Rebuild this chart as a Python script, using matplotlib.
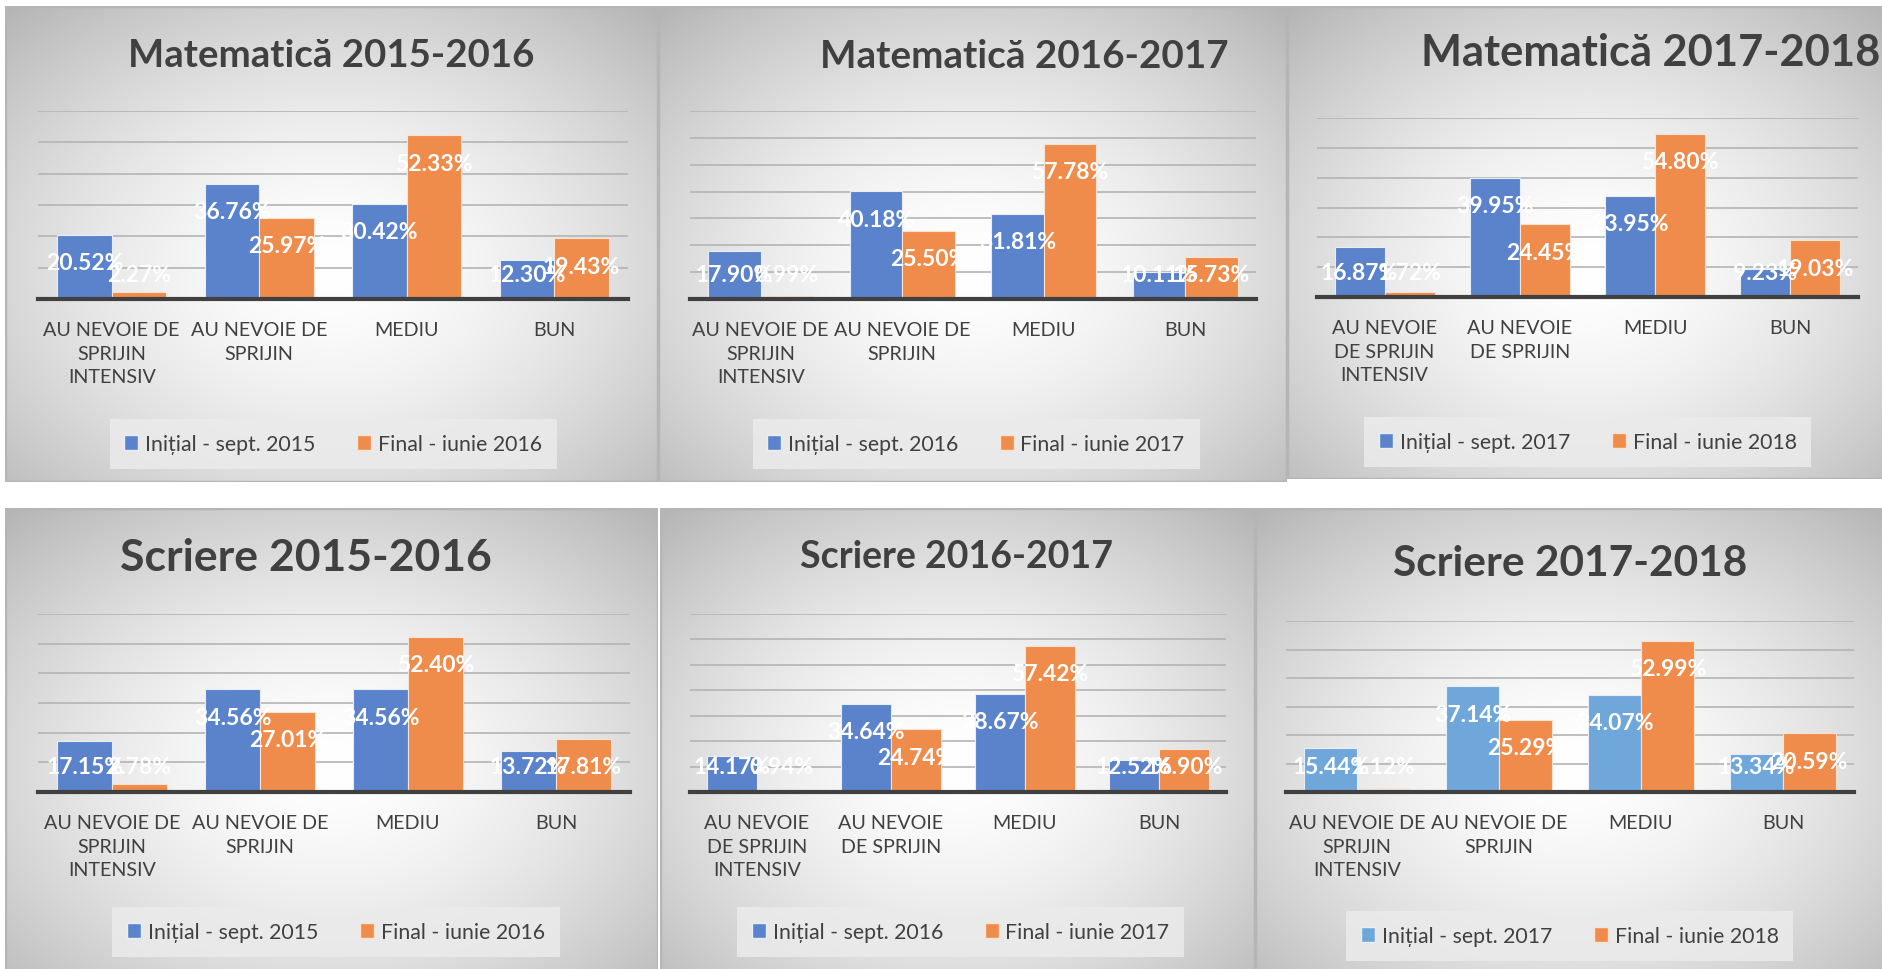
import matplotlib

matplotlib.use("Agg")
import matplotlib.pyplot as plt
import numpy as np
from matplotlib.patches import Patch, Rectangle

plt.rcParams["font.family"] = ["Lato", "DejaVu Sans"]

# values (percentages)
mat_1516_initial = [20.52, 36.76, 30.42, 12.30]
mat_1516_final = [2.27, 25.97, 52.33, 19.43]
mat_1617_initial = [17.90, 40.18, 31.81, 10.11]
mat_1617_final = [0.99, 25.50, 57.78, 15.73]
mat_1718_initial = [16.87, 39.95, 33.95, 9.23]
mat_1718_final = [1.72, 24.45, 54.80, 19.03]
scr_1516_initial = [17.15, 34.56, 34.56, 13.72]
scr_1516_final = [2.78, 27.01, 52.40, 17.81]
scr_1617_initial = [14.17, 34.64, 38.67, 12.52]
scr_1617_final = [0.94, 24.74, 57.42, 16.90]
scr_1718_initial = [15.44, 37.14, 34.07, 13.34]
scr_1718_final = [1.12, 25.29, 52.99, 20.59]

cats_wide = ["AU NEVOIE DE\nSPRIJIN\nINTENSIV", "AU NEVOIE DE\nSPRIJIN", "MEDIU", "BUN"]
cats_narrow = ["AU NEVOIE\nDE SPRIJIN\nINTENSIV", "AU NEVOIE\nDE SPRIJIN", "MEDIU", "BUN"]

titles = ["Matematică 2015-2016", "Matematică 2016-2017", "Matematică 2017-2018",
          "Scriere 2015-2016", "Scriere 2016-2017", "Scriere 2017-2018"]
legend_initial = ["Inițial - sept. 2015", "Inițial - sept. 2016", "Inițial - sept. 2017",
                  "Inițial - sept. 2015", "Inițial - sept. 2016", "Inițial - sept. 2017"]
legend_final = ["Final - iunie 2016", "Final - iunie 2017", "Final - iunie 2018",
                "Final - iunie 2016", "Final - iunie 2017", "Final - iunie 2018"]

initial_series = [mat_1516_initial, mat_1617_initial, mat_1718_initial,
                  scr_1516_initial, scr_1617_initial, scr_1718_initial]
final_series = [mat_1516_final, mat_1617_final, mat_1718_final,
                scr_1516_final, scr_1617_final, scr_1718_final]

W, H = 1883, 970
BLUE = "#5a83cb"
LIGHT_BLUE = "#70a7db"
ORANGE = "#ef8c4b"
TEXT = "#404040"

# layout in pixels: panel box, plot box, y max, title (x, y, size), legend centre, labels, blue
layout = [
    dict(panel=(5, 7, 658, 483), plot=(38, 112, 628, 300), ymax=60, title=(331, 56, 27.6),
         legend=(333, 445), cats=cats_wide, blue=BLUE),
    dict(panel=(658, 7, 1287, 483), plot=(690, 112, 1256, 300), ymax=70, title=(1024, 56, 27.8),
         legend=(976, 445), cats=cats_wide, blue=BLUE),
    dict(panel=(1287, 7, 1890, 480), plot=(1317, 119, 1858, 298), ymax=60, title=(1651, 53, 31.2),
         legend=(1588, 443), cats=cats_narrow, blue=BLUE),
    dict(panel=(5, 509, 658, 975), plot=(38, 615, 630, 793), ymax=60, title=(306, 558, 32),
         legend=(336, 933), cats=cats_wide, blue=BLUE),
    dict(panel=(660, 509, 1255, 975), plot=(690, 615, 1226, 793), ymax=70, title=(957, 557, 27),
         legend=(961, 933), cats=cats_narrow, blue=BLUE),
    dict(panel=(1255, 509, 1890, 975), plot=(1286, 622, 1854, 793), ymax=60, title=(1570, 564, 30.5),
         legend=(1570, 937), cats=cats_wide, blue=LIGHT_BLUE),
]


def fig_rect(x0, y0, x1, y1):
    return [x0 / W, 1 - y1 / H, (x1 - x0) / W, (y1 - y0) / H]


def gradient():
    yy, xx = np.mgrid[0:1:200j, 0:1:300j]
    r = np.sqrt(((xx - 0.5) / 0.62) ** 2 + ((yy - 0.55) / 0.62) ** 2)
    v = np.clip(1 - 0.22 * r ** 1.6, 0, 1)
    return np.dstack([v, v, v])


fig = plt.figure(figsize=(W / 100, H / 100), dpi=100)
fig.patch.set_facecolor("white")

x = np.arange(4)
bar_w = 0.37

for i, cfg in enumerate(layout):
    px0, py0, px1, py1 = cfg["panel"]
    bg = fig.add_axes(fig_rect(px0, py0, px1, py1))
    bg.imshow(gradient(), extent=(0, 1, 0, 1), aspect="auto", interpolation="bilinear")
    bg.add_patch(Rectangle((0, 0), 1, 1, fill=False, edgecolor="#b5b5b5", lw=2.5,
                           transform=bg.transAxes))
    bg.set_axis_off()

    ax0, ay0, ax1, ay1 = cfg["plot"]
    ax = fig.add_axes(fig_rect(ax0, ay0, ax1, ay1))
    ax.set_facecolor("none")
    ymax = cfg["ymax"]
    ppu = (ay1 - ay0) / ymax

    b1 = ax.bar(x - bar_w / 2, initial_series[i], bar_w, color=cfg["blue"],
                edgecolor="#e8eef8", linewidth=0.8, zorder=3)
    b2 = ax.bar(x + bar_w / 2, final_series[i], bar_w, color=ORANGE,
                edgecolor="#f8e2d2", linewidth=0.8, zorder=3)

    for bars, vals in ((b1, initial_series[i]), (b2, final_series[i])):
        for rect, v in zip(bars, vals):
            ly = max(v - 28 / ppu, 25 / ppu)
            ax.text(rect.get_x() + rect.get_width() / 2, ly, f"{v:.2f}%",
                    ha="center", va="center", color="white", fontsize=16.5,
                    fontweight="bold", zorder=5)

    ax.set_xlim(-0.5, 3.5)
    ax.set_ylim(0, ymax)
    ax.set_yticks(np.arange(0, ymax + 1, 10))
    ax.yaxis.grid(True, color="#b4b4b4", lw=1.2, zorder=0)
    ax.set_axisbelow(True)
    ax.tick_params(axis="y", left=False, labelleft=False)
    ax.set_xticks(x)
    ax.set_xticklabels(cfg["cats"], fontsize=14.2, color=TEXT, linespacing=1.45)
    ax.tick_params(axis="x", length=0, pad=16)
    for side in ("top", "left", "right"):
        ax.spines[side].set_visible(False)
    ax.spines["bottom"].set_color("#404040")
    ax.spines["bottom"].set_linewidth(3)
    ax.spines["bottom"].set_zorder(4)

    tx, ty, tsize = cfg["title"]
    fig.text(tx / W, 1 - ty / H, titles[i], ha="center", va="center", fontsize=tsize,
             fontweight="bold", color=TEXT)

    lx, ly = cfg["legend"]
    handles = [Patch(facecolor=cfg["blue"], edgecolor="#e8eef8", label=legend_initial[i]),
               Patch(facecolor=ORANGE, edgecolor="#f8e2d2", label=legend_final[i])]
    leg = fig.legend(handles=handles, loc="center", bbox_to_anchor=(lx / W, 1 - ly / H),
                     ncol=2, fontsize=15.3, frameon=True, fancybox=False, handlelength=0.65,
                     handleheight=0.65, handletextpad=0.3, columnspacing=2.0, borderpad=0.7,
                     labelcolor=TEXT)
    leg.get_frame().set_facecolor("#ebebeb")
    leg.get_frame().set_edgecolor("none")
    leg.get_frame().set_alpha(0.85)

fig.savefig("out.png", dpi=100)
